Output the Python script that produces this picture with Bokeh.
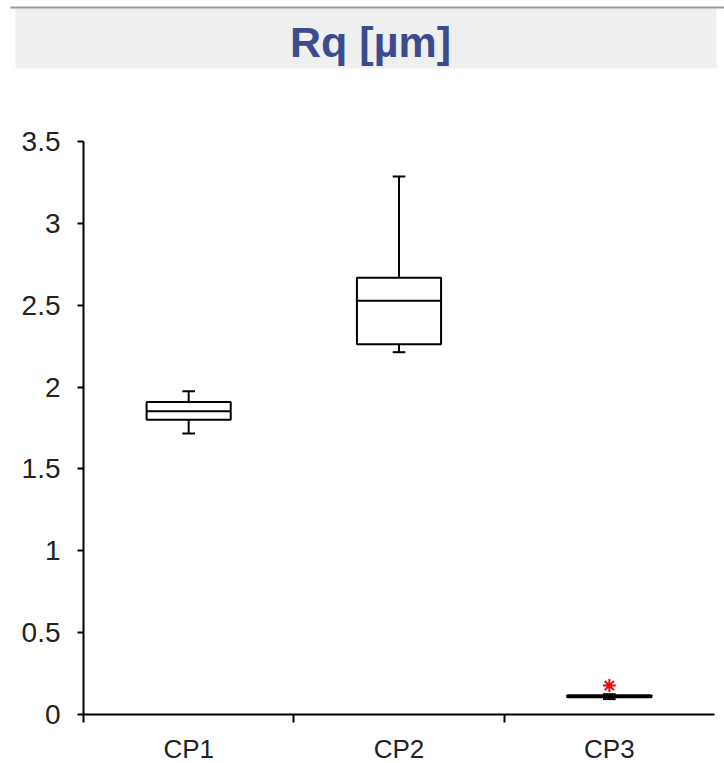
from bokeh.plotting import figure
from bokeh.models import Range1d, LinearAxis, FixedTicker, ColumnDataSource
from bokeh.core.properties import value
from bokeh.embed import file_html
from bokeh.resources import INLINE

# ---- data ----
title_text = "Rq [µm]"
categories = ["CP1", "CP2", "CP3"]
q_min = [1.716, 2.213, 0.094]
q1 = [1.800, 2.262, 0.106]
median = [1.852, 2.527, 0.112]
q3 = [1.909, 2.667, 0.117]
q_max = [1.975, 3.286, 0.124]
outlier_cat = ["CP3"]
outlier_val = [0.177]
yticks = [0, 0.5, 1, 1.5, 2, 2.5, 3, 3.5]
ytick_labels = ["0", "0.5", "1", "1.5", "2", "2.5", "3", "3.5"]

FONT = value("Liberation Sans")

W, H = 724, 763
# plot area placement (pixels)
FL, FR, FT, FB = 83, 714, 141, 714
xs = (FR - FL) / 3.0
ys = (FB - FT) / 3.5

p = figure(width=W, height=H,
           x_range=Range1d(-FL / xs, 3 + (W - FR) / xs),
           y_range=Range1d(-(H - FB) / ys, 3.5 + FT / ys),
           x_axis_type=None, y_axis_type=None, toolbar_location=None,
           output_backend="svg", min_border=0, outline_line_color=None)
p.extra_x_ranges = {"px": Range1d(0, W)}
p.extra_y_ranges = {"px": Range1d(H, 0)}

# ---- title bar ----
p.quad(left=[15], right=[716], top=[8], bottom=[68], fill_color="#EFEFEF",
       line_color=None, x_range_name="px", y_range_name="px")
p.segment(x0=[10], y0=[7], x1=[724], y1=[7], line_color="#9A9A9A", line_width=2,
          x_range_name="px", y_range_name="px")
p.text(x=[370], y=[41], text=[title_text], text_font=FONT, text_font_style="bold",
       text_font_size="43px", text_color="#3B4B8E", text_align="center",
       text_baseline="middle", x_range_name="px", y_range_name="px")

# ---- box plot ----
xpos = [i + 0.5 for i in range(len(categories))]
box_w = 0.4
cap_w = 0.06
src = ColumnDataSource(dict(
    x=xpos,
    left=[x - box_w / 2 for x in xpos], right=[x + box_w / 2 for x in xpos],
    cl=[x - cap_w / 2 for x in xpos], cr=[x + cap_w / 2 for x in xpos],
    q_min=q_min, q1=q1, med=median, q3=q3, q_max=q_max,
))

p.segment(x0="x", y0="q3", x1="x", y1="q_max", source=src, line_color="black", line_width=2)
p.segment(x0="x", y0="q1", x1="x", y1="q_min", source=src, line_color="black", line_width=2)
p.segment(x0="cl", y0="q_max", x1="cr", y1="q_max", source=src, line_color="black", line_width=2)
p.segment(x0="cl", y0="q_min", x1="cr", y1="q_min", source=src, line_color="black", line_width=2)
p.quad(left="left", right="right", top="q3", bottom="q1", source=src,
       fill_color="white", line_color="black", line_width=2)
p.segment(x0="left", y0="med", x1="right", y1="med", source=src, line_color="black", line_width=2)

ox = [xpos[categories.index(c)] for c in outlier_cat]
p.scatter(x=ox, y=outlier_val, marker="asterisk", size=13, line_color="red", line_width=2)

# ---- y axis at x = 0 ----
yax = LinearAxis(fixed_location=0, ticker=FixedTicker(ticks=yticks, minor_ticks=[]),
                 bounds=(0, 3.5),
                 major_label_overrides={float(k): v for k, v in zip(yticks, ytick_labels)})
yax.major_tick_out = 6
yax.major_tick_in = 0
yax.major_tick_line_width = 2
yax.axis_line_width = 2
yax.major_label_standoff = 17
yax.major_label_text_font = "Liberation Sans"
yax.major_label_text_font_size = "28px"
yax.major_label_text_color = "#222222"
p.add_layout(yax, "left")

# ---- x axis at y = 0 ----
xax = LinearAxis(fixed_location=0, bounds=(0, 3),
                 ticker=FixedTicker(ticks=xpos, minor_ticks=[0, 1, 2]),
                 major_label_overrides={float(k): v for k, v in zip(xpos, categories)})
xax.major_tick_out = 0
xax.major_tick_in = 0
xax.minor_tick_out = 8
xax.minor_tick_in = 0
xax.minor_tick_line_width = 2
xax.minor_tick_line_color = "black"
xax.axis_line_width = 2
xax.major_label_standoff = 11
xax.major_label_text_font = "Liberation Sans"
xax.major_label_text_font_size = "26px"
xax.major_label_text_color = "#222222"
p.add_layout(xax, "below")

open("out.html", "w").write(file_html(p, INLINE))
